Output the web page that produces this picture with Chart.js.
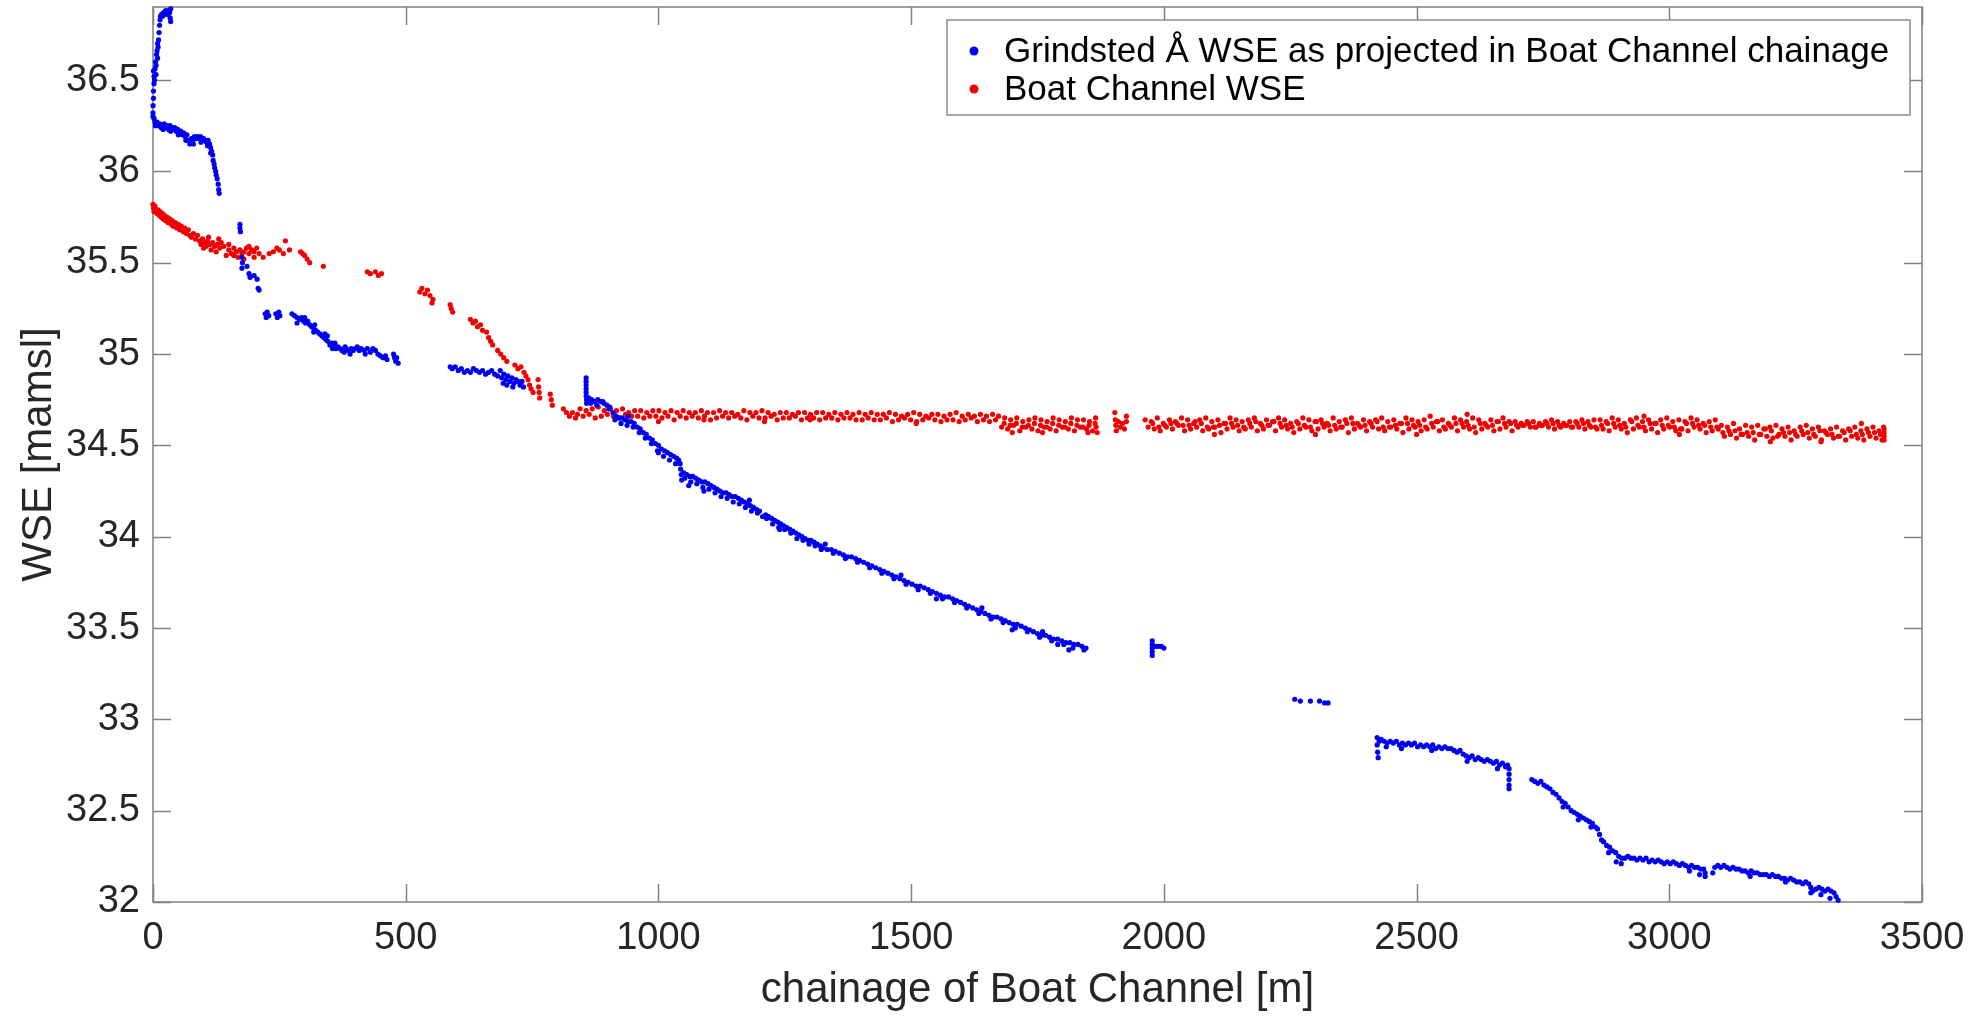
<!DOCTYPE html>
<html><head><meta charset="utf-8">
<script src="https://cdn.jsdelivr.net/npm/chart.js@4.4.1/dist/chart.umd.min.js"></script>
<style>html,body{margin:0;padding:0;background:#fff;}#wrap{width:1979px;height:1020px;position:relative;}</style>
</head><body><div id="wrap"><canvas id="c"></canvas></div>
<script>
const X_TICKS = [0,500,1000,1500,2000,2500,3000,3500];
const Y_TICKS = [32,32.5,33,33.5,34,34.5,35,35.5,36,36.5];
const X_RANGE = [0,3500];
const Y_RANGE = [32,36.9];
const LABEL_GRINDSTED = 'Grindsted Å WSE as projected in Boat Channel chainage';
const LABEL_BOAT = 'Boat Channel WSE';
const X_TITLE = 'chainage of Boat Channel [m]';
const Y_TITLE = 'WSE [mamsl]';

// Grindsted Å, upstream end (steep rise, plateau, scattered drop)
const grindstedUpstream = [
[0,36.32],[0,36.36],[1,36.40],[1,36.44],[2,36.48],[2,36.52],[1,36.55],[3,36.50],[4,36.56],[5,36.60],[6,36.58],[7,36.64],[8,36.66],[9,36.70],[10,36.68],[11,36.72],[12,36.76],[13,36.80],[14,36.83],[15,36.85],[17,36.86],[19,36.85],[21,36.87],[23,36.86],[25,36.88],[27,36.87],[29,36.86],[31,36.88],[33,36.87],[34,36.84],[35,36.82],[35,36.89],[6,36.53],[9,36.62],
[0,36.30],[2,36.29],[4,36.27],[6,36.26],[8,36.27],[10,36.25],[13,36.26],[16,36.24],[19,36.25],[22,36.26],[25,36.24],[28,36.25],[31,36.23],[34,36.25],[37,36.24],[40,36.23],[43,36.24],[46,36.22],[49,36.23],[52,36.21],[55,36.22],[58,36.20],[61,36.21],[64,36.19],[67,36.20],[70,36.17],[73,36.15],[76,36.18],[79,36.17],[82,36.19],[85,36.18],[88,36.19],[91,36.18],[94,36.19],[97,36.17],[100,36.18],[103,36.17],[106,36.16],[109,36.17],[112,36.15],[114,36.13],[116,36.11],[118,36.09],[119,36.06],[121,36.04],[122,36.02],[124,36.00],[125,35.98],[127,35.96],[129,35.93],[130,35.90],[131,35.88],
[5,36.25],[20,36.23],[35,36.22],[50,36.20],[65,36.17],[80,36.15],[95,36.16],[108,36.14],[114,36.10],
[172,35.71],[172,35.69],[173,35.67],[176,35.53],[177,35.50],[176,35.47],[186,35.48],[190,35.44],[192,35.42],[200,35.43],[206,35.41],[208,35.36],[210,35.35]
];
// Grindsted Å, 220-740 m
const grindstedMid = [
[222,35.22],[224,35.20],[226,35.23],[229,35.21],[243,35.22],[246,35.20],[249,35.23],[251,35.21],[275,35.22],[280,35.21],[285,35.20],[290,35.19],[294,35.20],[298,35.18],[302,35.17],[306,35.18],[310,35.16],[314,35.15],[318,35.14],[322,35.13],[326,35.12],[330,35.11],[334,35.10],[338,35.09],[342,35.08],[346,35.07],[350,35.05],[354,35.06],[358,35.04],[362,35.03],[366,35.04],[370,35.03],[374,35.02],[378,35.01],[382,35.03],[386,35.02],[390,35.00],[396,35.02],[400,35.03],[404,35.04],[408,35.02],[412,35.03],[418,35.02],[424,35.03],[430,35.01],[435,35.03],[440,35.02],[445,35.00],[450,34.99],[455,34.98],[460,34.99],[463,34.97],[476,35.00],[478,34.98],[480,34.96],[482,34.98],[485,34.95],
[300,35.20],[320,35.16],[340,35.11],[360,35.06],[380,35.04],[345,35.10],[355,35.03],[285,35.17],[392,35.03],[420,35.00],[318,35.12],
[588,34.93],[592,34.92],[598,34.93],[604,34.91],[610,34.92],[616,34.90],[622,34.91],[628,34.90],[634,34.92],[640,34.91],[646,34.90],[652,34.91],[658,34.89],[664,34.90],[670,34.91],[676,34.89],[682,34.88],[687,34.91],[690,34.87],[694,34.89],[698,34.86],[702,34.88],[706,34.85],[710,34.87],[714,34.84],[718,34.86],[722,34.85],[726,34.83],[730,34.85],[733,34.82],[693,34.84],[700,34.83],[712,34.82]
];
// Grindsted Å, main descent 857-1850 m
const grindstedMain = [
[857,34.87],[857,34.85],[857,34.83],[857,34.81],[857,34.79],[857,34.77],[858,34.75],[858,34.73],
[862,34.76],[868,34.75],[874,34.74],[880,34.75],[886,34.74],[892,34.73],[898,34.72],[904,34.71],[910,34.68],[916,34.66],[922,34.65],[928,34.65],[934,34.64],[940,34.63],[946,34.63],[952,34.62],[958,34.60],[964,34.59],[970,34.57],[976,34.56],[982,34.54],[988,34.53],[994,34.51],[1000,34.50],[1006,34.48],[1012,34.47],[1018,34.46],[1024,34.45],[1030,34.44],[1036,34.43],[1040,34.42],[1043,34.40],[1044,34.37],[1045,34.34],[1046,34.31],[1050,34.35],[1056,34.34],[1062,34.33],[1068,34.33],[1074,34.32],[1080,34.31],[1086,34.30],[1092,34.30],[1098,34.29],[1104,34.28],[1110,34.27],[1116,34.26],[1122,34.25],[1128,34.24],[1134,34.24],[1140,34.23],[1146,34.22],[1152,34.22],[1158,34.21],[1164,34.20],[1170,34.19],[1176,34.18],[1182,34.17],[1188,34.16],[1194,34.15],[1200,34.14],[1212,34.12],[1218,34.11],[1224,34.10],[1230,34.09],[1236,34.08],[1242,34.07],[1248,34.06],[1254,34.05],[1260,34.04],[1266,34.03],[1272,34.02],[1278,34.01],[1284,34.00],[1290,33.99],[1296,33.98],[1302,33.98],[1308,33.97],[1314,33.96],[1320,33.95],[1326,33.94],[1334,33.93],[1342,33.93],[1350,33.92],[1358,33.91],[1366,33.90],[1374,33.89],[1382,33.89],[1390,33.88],[1398,33.87],[1406,33.86],[1414,33.85],[1422,33.84],[1430,33.83],[1438,33.82],[1446,33.81],[1454,33.80],[1462,33.79],[1470,33.78],[1478,33.77],[1486,33.76],[1494,33.75],[1502,33.74],[1510,33.73],[1518,33.73],[1526,33.72],[1534,33.71],[1542,33.70],[1550,33.69],[1558,33.68],[1566,33.67],[1574,33.67],[1582,33.66],[1590,33.65],[1598,33.64],[1606,33.63],[1614,33.62],[1622,33.61],[1630,33.60],[1638,33.59],[1646,33.58],[1654,33.57],[1662,33.56],[1670,33.56],[1678,33.55],[1686,33.54],[1694,33.53],[1702,33.52],[1710,33.52],[1718,33.51],[1726,33.50],[1734,33.49],[1742,33.48],[1750,33.47],[1758,33.46],[1766,33.46],[1774,33.45],[1782,33.44],[1790,33.44],[1798,33.43],[1806,33.42],[1814,33.42],[1822,33.41],[1830,33.41],[1838,33.40],[1846,33.39],
[866,34.73],[878,34.72],[890,34.74],[902,34.70],[914,34.64],[926,34.62],[938,34.61],[950,34.60],[962,34.57],[974,34.54],[986,34.51],[998,34.47],[1010,34.44],[1022,34.42],[1034,34.40],[1052,34.32],[1064,34.30],[1076,34.29],[1088,34.27],[1100,34.26],[1112,34.24],[1124,34.22],[1136,34.21],[1148,34.19],[1160,34.18],[1172,34.16],[1184,34.14],[1196,34.13],[1214,34.10],[1226,34.07],[1238,34.05],[1250,34.04],[1262,34.02],[1274,33.99],[1286,33.98],[1298,33.96],[1310,33.95],[1322,33.93],[1346,33.91],[1370,33.88],[1394,33.86],[1418,33.83],[1442,33.80],[1466,33.77],[1490,33.74],[1514,33.71],[1538,33.69],[1562,33.66],[1586,33.64],[1610,33.61],[1634,33.58],[1658,33.55],[1682,33.53],[1706,33.50],[1730,33.48],[1754,33.45],[1778,33.43],[1802,33.41],[1812,33.38],[1820,33.39],[1842,33.38],
[940,34.66],[1000,34.46],[1060,34.28],[1090,34.25],[1180,34.20],[1206,34.11],[1240,34.04],[1330,33.96],[1480,33.79],[1550,33.66],[1640,33.61],[1700,33.49],[1760,33.48],[1790,33.41]
];
// Grindsted Å, downstream part 1975-3335 m
const grindstedLower = [
[1977,33.43],[1977,33.41],[1977,33.39],[1977,33.37],[1977,33.35],[1980,33.40],[1985,33.40],[1990,33.40],[1995,33.40],[2000,33.39],
[2259,33.11],[2270,33.10],[2290,33.10],[2308,33.10],[2318,33.09],[2325,33.09],
[2422,32.90],[2422,32.86],[2423,32.82],[2424,32.79],[2426,32.88],[2430,32.89],[2436,32.88],[2442,32.87],[2448,32.88],[2454,32.87],[2460,32.88],[2466,32.86],[2472,32.87],[2478,32.86],[2484,32.87],[2490,32.86],[2496,32.87],[2502,32.85],[2508,32.86],[2514,32.85],[2520,32.86],[2526,32.85],[2532,32.86],[2538,32.84],[2544,32.85],[2550,32.84],[2556,32.85],[2562,32.84],[2568,32.84],[2574,32.83],[2580,32.82],[2586,32.83],[2592,32.81],[2598,32.80],[2604,32.79],[2610,32.80],[2616,32.78],[2622,32.79],[2628,32.78],[2634,32.77],[2640,32.78],[2646,32.77],[2652,32.76],[2658,32.77],[2664,32.75],[2670,32.76],[2676,32.74],[2680,32.75],[2683,32.73],[2683,32.70],[2683,32.67],[2683,32.64],[2683,32.62],
[2440,32.85],[2470,32.84],[2530,32.83],[2600,32.77],[2660,32.73],
[2728,32.67],[2734,32.66],[2740,32.65],[2746,32.66],[2752,32.64],[2758,32.63],[2764,32.62],[2770,32.60],[2776,32.59],[2782,32.57],[2788,32.55],[2794,32.54],[2800,32.52],[2806,32.50],[2812,32.49],[2818,32.48],[2824,32.47],[2830,32.46],[2836,32.45],[2842,32.44],[2848,32.43],[2854,32.41],[2858,32.40],[2862,32.37],[2866,32.34],[2870,32.33],[2876,32.31],[2882,32.30],[2888,32.28],[2894,32.27],[2900,32.25],[2906,32.24],[2912,32.24],[2918,32.25],[2924,32.24],[2930,32.24],[2936,32.23],[2942,32.24],[2948,32.23],[2954,32.24],[2960,32.22],[2966,32.23],[2972,32.22],[2978,32.23],[2984,32.22],[2990,32.21],[2996,32.22],[3002,32.21],[3008,32.22],[3014,32.21],[3020,32.20],[3026,32.21],[3032,32.20],[3038,32.19],[3044,32.20],[3050,32.19],[3056,32.19],[3062,32.18],[3068,32.18],[3071,32.16],[3071,32.14],
[2790,32.52],[2820,32.45],[2845,32.41],[2880,32.27],[2895,32.22],[2905,32.21],[3040,32.17],[3060,32.15],
[3086,32.16],[3090,32.19],[3096,32.20],[3102,32.19],[3108,32.20],[3114,32.19],[3120,32.18],[3126,32.19],[3132,32.18],[3138,32.18],[3144,32.17],[3150,32.17],[3156,32.16],[3162,32.17],[3168,32.16],[3174,32.16],[3180,32.15],[3186,32.15],[3192,32.15],[3198,32.14],[3204,32.15],[3210,32.14],[3216,32.14],[3222,32.13],[3228,32.13],[3234,32.12],[3240,32.13],[3246,32.12],[3252,32.11],[3258,32.11],[3264,32.10],[3270,32.11],[3276,32.10],[3280,32.08],[3284,32.06],[3290,32.07],[3296,32.08],[3302,32.07],[3308,32.06],[3314,32.07],[3320,32.06],[3326,32.05],[3330,32.03],[3334,32.01],
[3160,32.14],[3230,32.11],[3280,32.05],[3300,32.04],[3318,32.02]
];

// Boat Channel, sparse upstream part 0-845 m
const boatUpstream = [
[0,35.82],[1,35.80],[2,35.78],[4,35.81],[6,35.79],[8,35.77],[10,35.79],[12,35.76],[14,35.78],[16,35.75],[18,35.77],[20,35.74],[22,35.76],[25,35.73],[28,35.75],[30,35.72],[33,35.74],[36,35.71],[38,35.73],[40,35.70],[44,35.72],[47,35.69],[50,35.71],[53,35.68],[56,35.70],[60,35.67],[63,35.69],[66,35.66],[70,35.68],[73,35.65],[76,35.64],[80,35.66],[84,35.63],[88,35.65],[92,35.62],[95,35.60],[98,35.63],[102,35.61],[105,35.59],[108,35.62],[112,35.60],[115,35.57],[118,35.61],[122,35.59],[125,35.56],[128,35.60],[132,35.58],[135,35.61],[140,35.59],[145,35.54],[150,35.57],[155,35.55],[160,35.58],[165,35.56],[168,35.53],[172,35.57],[176,35.55],[180,35.56],[185,35.58],[190,35.55],[195,35.57],[200,35.56],[205,35.58],[210,35.55],[218,35.53],[238,35.56],[245,35.58],[250,35.57],[258,35.55],[262,35.62],[292,35.56],[296,35.55],[300,35.54],[305,35.52],[310,35.50],[337,35.48],[424,35.45],[430,35.44],[440,35.45],[446,35.43],[452,35.44],[528,35.34],[532,35.36],[538,35.33],[543,35.35],[548,35.32],[552,35.28],[554,35.30],[588,35.27],[590,35.25],[593,35.23],[628,35.19],[633,35.17],[638,35.18],[642,35.15],[648,35.16],[652,35.13],[660,35.12],[664,35.09],[668,35.07],[672,35.05],[682,35.02],[688,35.00],[694,34.98],[700,34.96],[716,34.94],[722,34.92],[728,34.93],[734,34.90],[738,34.88],[742,34.86],[745,34.83],[748,34.81],[752,34.79],[762,34.86],[763,34.82],[764,34.79],[765,34.76],[786,34.78],[788,34.75],[790,34.72],[812,34.70],[818,34.68],[824,34.66],[830,34.68],[836,34.65],[840,34.67],
[100,35.58],[110,35.64],[130,35.63],[150,35.60],[160,35.54],[180,35.52],[190,35.59],[200,35.53],[230,35.55],[270,35.57]
];
// Boat Channel, dense band - upper edge
const boatBandUpper = [
[845,34.70],[857,34.69],[869,34.70],[881,34.71],[893,34.69],[905,34.70],[917,34.69],[929,34.70],[941,34.68],[953,34.69],
[965,34.69],[977,34.68],[989,34.69],[1001,34.69],[1013,34.68],[1025,34.69],[1037,34.68],[1049,34.69],[1061,34.68],[1073,34.68],
[1085,34.69],[1097,34.68],[1109,34.68],[1121,34.69],[1133,34.68],[1145,34.68],[1157,34.67],[1169,34.69],[1181,34.68],[1193,34.68],
[1205,34.69],[1217,34.68],[1229,34.67],[1241,34.68],[1253,34.68],[1265,34.67],[1277,34.68],[1289,34.68],[1301,34.67],[1313,34.68],
[1325,34.68],[1337,34.67],[1349,34.68],[1361,34.67],[1373,34.68],[1385,34.67],[1397,34.68],
[1409,34.67],[1421,34.68],[1433,34.67],[1445,34.67],[1457,34.68],[1469,34.67],[1481,34.66],[1493,34.67],[1505,34.68],[1517,34.67],
[1529,34.66],[1541,34.67],[1553,34.67],[1565,34.66],[1577,34.67],[1589,34.68],[1601,34.66],[1613,34.67],[1625,34.66],[1637,34.67],
[1649,34.66],[1661,34.67],[1673,34.66],
[1685,34.65],[1697,34.64],[1709,34.65],[1721,34.63],[1733,34.64],[1745,34.65],[1757,34.64],[1769,34.63],[1781,34.65],[1793,34.64],
[1805,34.63],[1817,34.65],[1829,34.64],[1841,34.64],[1853,34.63],[1865,34.65],
[1963,34.64],[1975,34.63],[1987,34.65],[1999,34.62],[2011,34.64],[2023,34.63],[2035,34.65],[2047,34.64],[2059,34.62],[2071,34.64],
[2083,34.65],[2095,34.63],[2107,34.64],[2119,34.62],[2131,34.65],[2143,34.64],[2155,34.63],[2167,34.64],[2179,34.65],[2191,34.62],
[2203,34.64],[2215,34.63],[2227,34.65],[2239,34.64],[2251,34.62],[2263,34.63],[2275,34.65],[2287,34.64],[2299,34.63],[2311,34.64],
[2323,34.62],[2335,34.65],[2347,34.63],[2359,34.64],[2371,34.65],[2383,34.62],[2395,34.64],[2407,34.63],[2419,34.64],[2431,34.65],
[2443,34.63],[2455,34.64],[2467,34.62],[2479,34.65],[2491,34.64],[2503,34.63],[2515,34.64],[2527,34.66],[2539,34.63],[2551,34.64],
[2563,34.62],[2575,34.65],[2587,34.64],[2599,34.63],[2611,34.65],[2623,34.64],[2635,34.62],[2647,34.64],[2659,34.63],[2671,34.65],
[2683,34.63],
[2695,34.63],[2707,34.62],[2719,34.63],[2731,34.63],[2743,34.62],[2755,34.63],[2767,34.64],[2779,34.63],[2791,34.62],[2803,34.63],[2815,34.63],[2827,34.64],[2839,34.63],[2851,34.64],
[2863,34.64],[2875,34.63],[2887,34.65],[2899,34.64],[2911,34.62],[2923,34.64],[2935,34.65],[2947,34.63],[2959,34.64],[2971,34.62],[2983,34.64],[2995,34.65],[3007,34.63],[3019,34.64],[3031,34.63],[3043,34.65],[3055,34.64],[3067,34.62],[3079,34.63],[3091,34.64],
[3103,34.61],[3115,34.60],[3127,34.62],[3139,34.59],[3151,34.61],[3163,34.60],[3175,34.61],[3187,34.59],[3199,34.60],[3211,34.61],[3223,34.59],[3235,34.60],[3247,34.58],[3259,34.60],[3271,34.61],[3283,34.59],[3295,34.60],[3307,34.58],[3319,34.59],[3331,34.60],[3343,34.58],[3355,34.59],[3367,34.60],[3379,34.58],[3391,34.59],[3403,34.60],[3415,34.58]
];
// Boat Channel, dense band - lower edge
const boatBandLower = [
[851,34.66],[863,34.67],[875,34.65],[887,34.66],[899,34.67],[911,34.66],[923,34.65],[935,34.67],[947,34.66],
[959,34.66],[971,34.65],[983,34.66],[995,34.66],[1007,34.65],[1019,34.66],[1031,34.64],[1043,34.66],[1055,34.65],[1067,34.66],
[1079,34.65],[1091,34.66],[1103,34.64],[1115,34.65],[1127,34.66],[1139,34.65],[1151,34.66],[1163,34.65],[1175,34.64],[1187,34.66],
[1199,34.65],[1211,34.65],[1223,34.66],[1235,34.64],[1247,34.65],[1259,34.65],[1271,34.66],[1283,34.64],[1295,34.65],[1307,34.65],
[1319,34.64],[1331,34.65],[1343,34.65],[1355,34.64],[1367,34.65],[1379,34.65],[1391,34.64],
[1403,34.64],[1415,34.65],[1427,34.64],[1439,34.64],[1451,34.65],[1463,34.63],[1475,34.64],[1487,34.65],[1499,34.64],[1511,34.63],
[1523,34.64],[1535,34.65],[1547,34.64],[1559,34.63],[1571,34.64],[1583,34.64],[1595,34.63],[1607,34.64],[1619,34.65],[1631,34.63],
[1643,34.64],[1655,34.63],[1667,34.64],
[1679,34.60],[1691,34.59],[1703,34.61],[1715,34.58],[1727,34.60],[1739,34.59],[1751,34.58],[1763,34.60],[1775,34.59],[1787,34.58],
[1799,34.60],[1811,34.59],[1823,34.58],[1835,34.60],[1847,34.59],[1859,34.58],
[1969,34.60],[1981,34.59],[1993,34.58],[2005,34.60],[2017,34.59],[2029,34.61],[2041,34.58],[2053,34.59],[2065,34.60],[2077,34.58],
[2089,34.59],[2101,34.60],[2113,34.57],[2125,34.59],[2137,34.60],[2149,34.58],[2161,34.59],[2173,34.60],[2185,34.58],[2197,34.59],
[2209,34.61],[2221,34.58],[2233,34.60],[2245,34.59],[2257,34.57],[2269,34.59],[2281,34.60],[2293,34.58],[2305,34.59],[2317,34.60],
[2329,34.58],[2341,34.59],[2353,34.60],[2365,34.57],[2377,34.59],[2389,34.60],[2401,34.58],[2413,34.60],[2425,34.59],[2437,34.58],
[2449,34.60],[2461,34.59],[2473,34.57],[2485,34.59],[2497,34.60],[2509,34.58],[2521,34.59],[2533,34.60],[2545,34.58],[2557,34.59],
[2569,34.60],[2581,34.58],[2593,34.60],[2605,34.59],[2617,34.57],[2629,34.59],[2641,34.60],[2653,34.58],[2665,34.59],[2677,34.60],
[2689,34.58],
[2701,34.60],[2713,34.61],[2725,34.60],[2737,34.60],[2749,34.61],[2761,34.60],[2773,34.59],[2785,34.60],[2797,34.61],[2809,34.60],[2821,34.60],[2833,34.59],[2845,34.60],[2857,34.59],
[2869,34.59],[2881,34.58],[2893,34.60],[2905,34.59],[2917,34.57],[2929,34.59],[2941,34.60],[2953,34.58],[2965,34.59],[2977,34.57],[2989,34.59],[3001,34.60],[3013,34.58],[3025,34.59],[3037,34.58],[3049,34.60],[3061,34.59],[3073,34.57],[3085,34.58],[3097,34.59],
[3109,34.55],[3121,34.56],[3133,34.54],[3145,34.56],[3157,34.55],[3169,34.53],[3181,34.56],[3193,34.55],[3205,34.54],[3217,34.56],[3229,34.55],[3241,34.53],[3253,34.55],[3265,34.56],[3277,34.54],[3289,34.55],[3301,34.53],[3313,34.56],[3325,34.54],[3337,34.55],[3349,34.53],[3361,34.55],[3373,34.54],[3385,34.53],[3397,34.55],[3409,34.54],[3421,34.53]
];
// Boat Channel, dense band - middle, clusters and outliers
const boatBandMiddle = [
[1684,34.62],[1696,34.61],[1708,34.62],[1720,34.60],[1732,34.61],[1744,34.62],[1756,34.61],[1768,34.60],[1780,34.62],[1792,34.61],[1804,34.60],[1816,34.62],[1828,34.61],[1840,34.60],[1852,34.61],[1864,34.62],
[1903,34.68],[1904,34.64],[1905,34.61],[1906,34.58],[1910,34.63],[1914,34.60],[1918,34.62],[1922,34.59],[1926,34.63],[1926,34.66],
[1978,34.62],[2002,34.61],[2026,34.62],[2050,34.61],[2074,34.62],[2098,34.60],[2122,34.62],[2146,34.61],[2170,34.62],[2194,34.61],[2218,34.63],[2242,34.61],[2266,34.62],[2290,34.60],[2314,34.62],[2338,34.61],[2362,34.62],[2386,34.61],[2410,34.62],[2434,34.60],[2458,34.61],[2482,34.62],[2506,34.61],[2530,34.62],[2554,34.60],[2578,34.62],[2602,34.61],[2626,34.62],[2650,34.61],[2674,34.62],
[2698,34.61],[2722,34.62],[2746,34.61],[2770,34.62],[2794,34.61],[2818,34.62],[2842,34.61],
[2866,34.61],[2890,34.62],[2914,34.60],[2938,34.61],[2962,34.62],[2986,34.61],[3010,34.60],[3034,34.62],[3058,34.61],[3082,34.60],
[3106,34.57],[3130,34.58],[3154,34.57],[3178,34.56],[3202,34.58],[3226,34.57],[3250,34.56],[3274,34.57],[3298,34.58],[3322,34.56],[3346,34.57],[3370,34.56],[3394,34.57],[3418,34.56],
[3425,34.59],[3425,34.57],[3425,34.55],[3425,34.53],[3424,34.60],
[1000,34.63],[1090,34.64],[1210,34.63],[1300,34.64],[1510,34.62],[1700,34.57],[1760,34.57],[1850,34.57],[2100,34.56],[2300,34.56],[2500,34.56],[2600,34.67],[2950,34.66],[3020,34.56],[3200,34.52],[3300,34.52],[3380,34.62],[1868,34.57],[1866,34.60]
];
// Boat Channel, dense band - second middle row (1990-3406 m)
const boatBandFill = [
[1990,34.60],[2014,34.62],[2038,34.61],[2062,34.63],[2086,34.60],[2110,34.61],[2134,34.62],[2158,34.60],[2182,34.63],[2206,34.61],
[2230,34.62],[2254,34.60],[2278,34.61],[2302,34.63],[2326,34.61],[2350,34.60],[2374,34.62],[2398,34.61],[2422,34.63],[2446,34.60],
[2470,34.62],[2494,34.61],[2518,34.60],[2542,34.63],[2566,34.61],[2590,34.62],[2614,34.60],[2638,34.61],[2662,34.63],
[2686,34.62],[2710,34.61],[2734,34.60],[2758,34.62],[2782,34.61],[2806,34.60],[2830,34.62],
[2854,34.60],[2878,34.62],[2902,34.61],[2926,34.63],[2950,34.60],[2974,34.62],[2998,34.61],[3022,34.59],[3046,34.62],[3070,34.61],[3094,34.60],
[3118,34.58],[3142,34.56],[3166,34.57],[3190,34.59],[3214,34.55],[3238,34.57],[3262,34.58],[3286,34.56],[3310,34.57],[3334,34.55],[3358,34.58],[3382,34.56],[3406,34.57]
];

const FONT = '"Liberation Sans", Arial, Helvetica, sans-serif';
const AXIS_COLOR = '#808080';
const TEXT_COLOR = '#262626';
const BLUE = '#0000f0';
const RED = '#f00000';
const TICK_LEN = 18;

const toPts = arrs => [].concat(...arrs).map(p => ({x: p[0], y: p[1]}));

const framePlugin = {
  id: 'frame',
  beforeDatasetsDraw(chart) {
    const {ctx, chartArea: a, scales: {x, y}} = chart;
    ctx.save();
    ctx.strokeStyle = AXIS_COLOR;
    ctx.lineWidth = 1.5;
    ctx.beginPath();
    X_TICKS.forEach(v => {
      const px = Math.round(x.getPixelForValue(v)) + 0.5;
      ctx.moveTo(px, a.bottom); ctx.lineTo(px, a.bottom - TICK_LEN);
      ctx.moveTo(px, a.top); ctx.lineTo(px, a.top + TICK_LEN);
    });
    Y_TICKS.forEach(v => {
      const py = Math.round(y.getPixelForValue(v)) + 0.5;
      ctx.moveTo(a.left, py); ctx.lineTo(a.left + TICK_LEN, py);
      ctx.moveTo(a.right, py); ctx.lineTo(a.right - TICK_LEN, py);
    });
    ctx.stroke();
    ctx.strokeRect(a.left, a.top, a.right - a.left, a.bottom - a.top);
    ctx.restore();
  }
};

const legendPlugin = {
  id: 'boxLegend',
  afterDatasetsDraw(chart) {
    const {ctx, chartArea: a} = chart;
    const right = a.right - 12, top = a.top + 13, left = 947, bottom = a.top + 108;
    ctx.save();
    ctx.fillStyle = '#ffffff';
    ctx.fillRect(left, top, right - left, bottom - top);
    ctx.strokeStyle = '#8c8c8c';
    ctx.lineWidth = 1.5;
    ctx.strokeRect(left, top, right - left, bottom - top);
    const rows = [top + 31, top + 69];
    ctx.font = '35px ' + FONT;
    ctx.textBaseline = 'middle';
    ctx.textAlign = 'left';
    chart.data.datasets.forEach((ds, i) => {
      ctx.fillStyle = ds.backgroundColor;
      ctx.beginPath();
      ctx.arc(left + 27, rows[i], 4.5, 0, Math.PI * 2);
      ctx.fill();
      ctx.fillStyle = '#000000';
      ctx.fillText(ds.label, left + 57, rows[i] + 1);
    });
    ctx.restore();
  }
};

new Chart(document.getElementById('c'), {
  type: 'scatter',
  data: {
    datasets: [
      {label: LABEL_GRINDSTED, data: toPts([grindstedUpstream, grindstedMid, grindstedMain, grindstedLower]), backgroundColor: BLUE, borderWidth: 0, pointRadius: 2.6, clip: false},
      {label: LABEL_BOAT, data: toPts([boatUpstream, boatBandUpper, boatBandLower, boatBandMiddle, boatBandFill]), backgroundColor: RED, borderWidth: 0, pointRadius: 2.6, clip: false}
    ]
  },
  options: {
    responsive: true,
    maintainAspectRatio: false,
    animation: false,
    devicePixelRatio: 1,
    layout: {padding: {top: 7, right: 57, left: 0, bottom: 0}},
    plugins: {legend: {display: false}, tooltip: {enabled: false}},
    scales: {
      x: {
        type: 'linear', min: X_RANGE[0], max: X_RANGE[1],
        afterBuildTicks: s => { s.ticks = X_TICKS.map(v => ({value: v})); },
        afterFit: s => { s.height = 118; s.paddingLeft = 0; s.paddingRight = 0; },
        grid: {display: false, drawTicks: false},
        border: {display: false},
        ticks: {color: TEXT_COLOR, font: {family: FONT, size: 38}, padding: 14, maxRotation: 0, autoSkip: false, callback: v => String(v)},
        title: {display: true, text: X_TITLE, color: TEXT_COLOR, font: {family: FONT, size: 42}, padding: {top: 0, bottom: 4}}
      },
      y: {
        type: 'linear', min: Y_RANGE[0], max: Y_RANGE[1],
        afterBuildTicks: s => { s.ticks = Y_TICKS.map(v => ({value: v})); },
        afterFit: s => { s.width = 153; s.paddingTop = 0; s.paddingBottom = 0; },
        grid: {display: false, drawTicks: false},
        border: {display: false},
        ticks: {color: TEXT_COLOR, font: {family: FONT, size: 38}, padding: 13, autoSkip: false, callback: v => String(v)},
        title: {display: true, text: Y_TITLE, color: TEXT_COLOR, font: {family: FONT, size: 42}, padding: {top: 14, bottom: 0}}
      }
    }
  },
  plugins: [framePlugin, legendPlugin]
});
</script>
</body></html>
